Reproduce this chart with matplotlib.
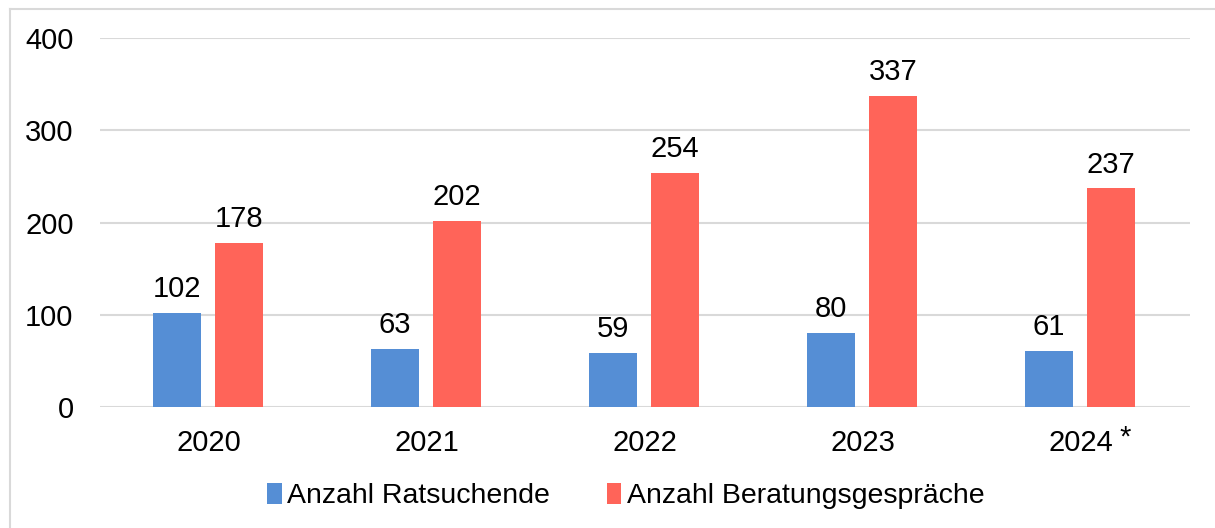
import matplotlib.pyplot as plt
from matplotlib.lines import Line2D
import numpy as np

# Data
years = ['2020', '2021', '2022', '2023', '2024']
ratsuchende = [102, 63, 59, 80, 61]
gespraeche = [178, 202, 254, 337, 237]

blue = '#558ED5'
red = '#FF6459'
grid_col = '#D9D9D9'

plt.rcParams['font.family'] = ['Liberation Sans', 'DejaVu Sans']

fig = plt.figure(figsize=(12.15, 5.28), dpi=100)
ax = fig.add_axes([100 / 1215, 1 - 407 / 528, 1090 / 1215, 369 / 528])

x = np.arange(len(years))
w = 0.22
b1 = ax.bar(x - 0.148, ratsuchende, w, color=blue, label='Anzahl Ratsuchende', zorder=3)
b2 = ax.bar(x + 0.138, gespraeche, w, color=red, label='Anzahl Beratungsgespräche', zorder=3)

for bars in (b1, b2):
    ax.bar_label(bars, padding=7, fontsize=21, color='#000000')

ax.set_xlim(-0.5, 4.5)
ax.set_ylim(0, 400)
ax.set_yticks([0, 100, 200, 300, 400])
ax.set_xticks(x)
ax.set_xticklabels(years)
ax.tick_params(axis='both', length=0, labelsize=21)
ax.tick_params(axis='y', pad=19)
ax.tick_params(axis='x', pad=16)
ax.grid(axis='y', color=grid_col, linewidth=1.5, zorder=0)
for s in ax.spines.values():
    s.set_visible(False)

# asterisk next to 2024
ax.annotate('*', xy=(4, 0), xycoords=('data', 'axes fraction'),
            xytext=(28, -22), textcoords='offset points', fontsize=21,
            ha='left', va='center')

fig.legend(handles=[b1, b2], loc='center', bbox_to_anchor=(626 / 1215, 1 - 496 / 528),
           ncol=2, frameon=False, fontsize=20.5, handlelength=0.5, handleheight=0.75,
           handletextpad=0.2, columnspacing=2.0)

# outer frame (top and left edges)
fig.add_artist(Line2D([10 / 1215, 1], [1 - 9 / 528, 1 - 9 / 528], color=grid_col, lw=1.5))
fig.add_artist(Line2D([10 / 1215, 10 / 1215], [0, 1 - 9 / 528], color=grid_col, lw=1.5))

fig.savefig('out.png', dpi=100, facecolor='white')
